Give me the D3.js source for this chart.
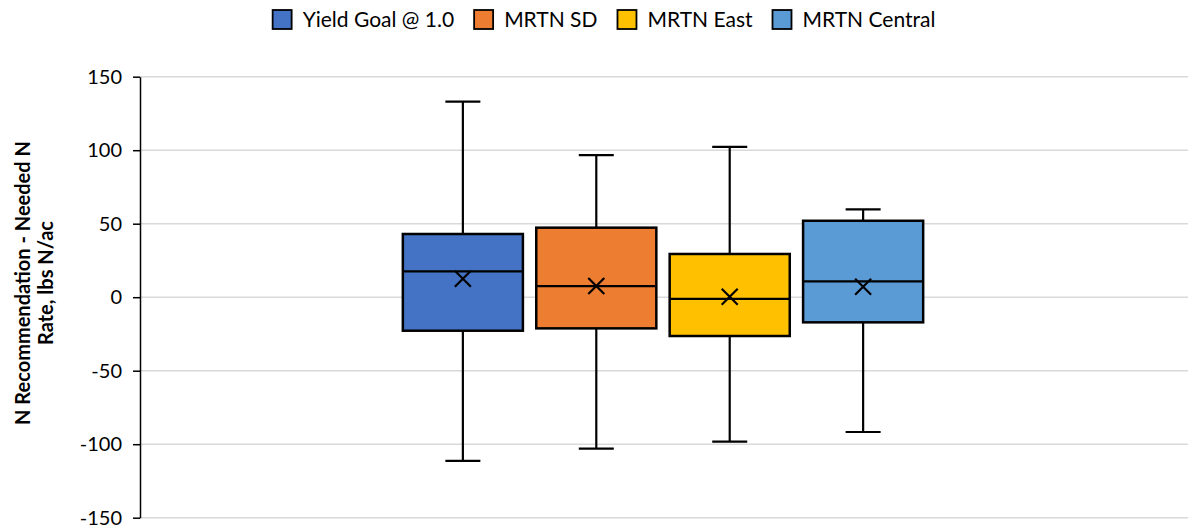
<!DOCTYPE html>
<html><head><meta charset="utf-8">
<script src="https://cdn.jsdelivr.net/npm/d3@7"></script>
<style>body{margin:0;background:#fff;} svg{display:block;}</style>
</head><body>
<svg id="chart" width="1188" height="529"></svg>
<script>
const series = ["Yield Goal @ 1.0", "MRTN SD", "MRTN East", "MRTN Central"];
const colors = ["#4472C4", "#ED7D31", "#FFC000", "#5B9BD5"];
const whiskerMax = [133, 96.7, 102.2, 59.8];
const q3 = [43, 47.3, 29.4, 52];
const median = [17.6, 7.6, -1.2, 10.8];
const mean = [12.6, 7.6, 0.3, 7.1];
const q1 = [-22.8, -21.2, -26.4, -17.1];
const whiskerMin = [-111.4, -103, -98.3, -91.7];
const yTicks = [-150, -100, -50, 0, 50, 100, 150];
const yTitle = ["N Recommendation - Needed N", "Rate, lbs N/ac"];

const font = "Lato, 'Open Sans', sans-serif";
const svg = d3.select("#chart");
const plot = {left: 140, right: 1186, top: 76.7, bottom: 517.7};

const y = d3.scaleLinear().domain([-150, 150]).range([plot.bottom, plot.top]);
const xCat = d3.scaleBand().domain([""]).range([plot.left, plot.right]).paddingInner(0).paddingOuter(0.48);
const xS = d3.scaleBand().domain(series).range([xCat(""), xCat("") + xCat.bandwidth()]).paddingInner(0.1).paddingOuter(0.05);

// gridlines
svg.append("g").selectAll("line").data(yTicks).join("line")
  .attr("x1", plot.left).attr("x2", 1188)
  .attr("y1", d => y(d)).attr("y2", d => y(d))
  .attr("stroke", "#d9d9d9").attr("stroke-width", 1.5);

// y axis
const yAxis = svg.append("g").attr("transform", `translate(${plot.left},0)`)
  .call(d3.axisLeft(y).tickValues(yTicks).tickFormat(d => String(d)).tickSize(7).tickPadding(11).tickSizeOuter(0));
yAxis.select(".domain").attr("stroke", "#000").attr("stroke-width", 1.5);
yAxis.selectAll(".tick line").attr("stroke", "#000").attr("stroke-width", 1.5);
yAxis.selectAll("text").attr("font-family", font).attr("font-size", 20).attr("fill", "#000");

// y title
const yt = svg.append("text").attr("transform", "translate(0,283) rotate(-90)")
  .attr("text-anchor", "middle").attr("font-family", font).attr("font-weight", "bold")
  .attr("font-size", 20).attr("fill", "#000");
yTitle.forEach((t, i) => yt.append("tspan").attr("x", 0).attr("y", 30 + i * 23).text(t));

// boxes
const data = series.map((s, i) => ({s, c: colors[i], max: whiskerMax[i], q3: q3[i], med: median[i], mean: mean[i], q1: q1[i], min: whiskerMin[i]}));
const g = svg.append("g").selectAll("g").data(data).join("g");
const bw = xS.bandwidth();
const cx = d => xS(d.s) + bw / 2;
const cap = 35;
const sw = 2.2;
// whiskers
g.append("line").attr("x1", cx).attr("x2", cx).attr("y1", d => y(d.max)).attr("y2", d => y(d.q3)).attr("stroke", "#000").attr("stroke-width", sw);
g.append("line").attr("x1", cx).attr("x2", cx).attr("y1", d => y(d.q1)).attr("y2", d => y(d.min)).attr("stroke", "#000").attr("stroke-width", sw);
g.append("line").attr("x1", d => cx(d) - cap / 2).attr("x2", d => cx(d) + cap / 2).attr("y1", d => y(d.max)).attr("y2", d => y(d.max)).attr("stroke", "#000").attr("stroke-width", sw);
g.append("line").attr("x1", d => cx(d) - cap / 2).attr("x2", d => cx(d) + cap / 2).attr("y1", d => y(d.min)).attr("y2", d => y(d.min)).attr("stroke", "#000").attr("stroke-width", sw);
// box
g.append("rect").attr("x", d => xS(d.s)).attr("width", bw)
  .attr("y", d => y(d.q3)).attr("height", d => y(d.q1) - y(d.q3))
  .attr("fill", d => d.c).attr("stroke", "#000").attr("stroke-width", sw + 0.3);
// median
g.append("line").attr("x1", d => xS(d.s)).attr("x2", d => xS(d.s) + bw).attr("y1", d => y(d.med)).attr("y2", d => y(d.med)).attr("stroke", "#000").attr("stroke-width", sw);
// mean X
const m = 8;
g.append("path").attr("d", d => `M${cx(d)-m},${y(d.mean)-m}L${cx(d)+m},${y(d.mean)+m}M${cx(d)-m},${y(d.mean)+m}L${cx(d)+m},${y(d.mean)-m}`)
  .attr("stroke", "#000").attr("stroke-width", sw).attr("fill", "none");

// legend
const lg = svg.append("g");
const sq = 19, gapText = 11, gapItem = 20;
let xpos = 0;
series.forEach((s, i) => {
  const it = lg.append("g").attr("transform", `translate(${xpos},0)`);
  it.append("rect").attr("x", 0).attr("y", 10).attr("width", sq).attr("height", sq)
    .attr("fill", colors[i]).attr("stroke", "#000").attr("stroke-width", 1.8);
  const t = it.append("text").attr("x", sq + gapText).attr("y", 27).attr("font-family", font)
    .attr("font-size", 21).attr("fill", "#000").text(s);
  const w = t.node().getComputedTextLength();
  xpos += sq + gapText + w + gapItem;
});
const total = xpos - gapItem;
lg.attr("transform", `translate(${604 - total / 2},0)`);
</script>
</body></html>
